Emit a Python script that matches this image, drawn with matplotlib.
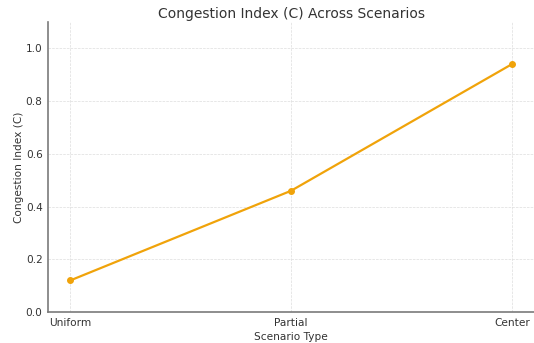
import matplotlib
matplotlib.use("Agg")
import matplotlib.pyplot as plt

scenarios = ["Uniform", "Partial", "Center"]
congestion = [0.12, 0.46, 0.94]

fig = plt.figure(figsize=(5.34, 3.43), dpi=100)
ax = fig.add_axes([0.09, 0.09, 0.91, 0.846])

ax.plot(scenarios, congestion, color="#f0a30a", linewidth=1.6, marker="o", markersize=4)

ax.set_ylim(0, 1.1)
ax.set_yticks([0.0, 0.2, 0.4, 0.6, 0.8, 1.0])
ax.grid(True, linestyle="--", linewidth=0.5, color="#dddddd")
ax.set_axisbelow(True)

for s in ["top", "right"]:
    ax.spines[s].set_visible(False)
for s in ["left", "bottom"]:
    ax.spines[s].set_color("#7a7a7a")
    ax.spines[s].set_linewidth(1.2)

ax.tick_params(colors="#333333", labelsize=7.6, length=0, pad=4)
ax.set_title("Congestion Index (C) Across Scenarios", fontsize=10, color="#333333", pad=3)
ax.set_xlabel("Scenario Type", fontsize=7.6, color="#333333", labelpad=3)
ax.set_ylabel("Congestion Index (C)", fontsize=7.6, color="#333333", labelpad=1.5)

fig.savefig("out.png", dpi=100)
